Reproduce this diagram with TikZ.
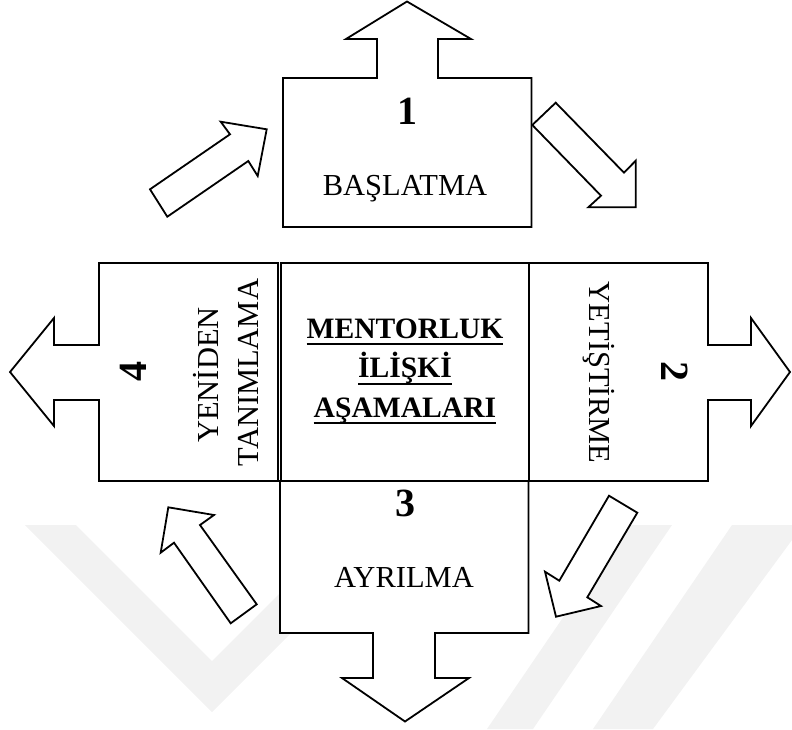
\documentclass[tikz,border=0pt]{standalone}
\usepackage{fontspec}
\setmainfont{Liberation Serif}
\newcommand\ulbox[1]{\setbox0\hbox{#1}\rlap{\rule[-7pt]{\wd0}{2pt}}\box0}
\begin{document}
\begin{tikzpicture}[x=1pt,y=-1pt,
  shp/.style={draw=black,line width=1.8pt,fill=white,line join=miter},
  wm/.style={fill=black!5,draw=none},
  lbl/.style={inner sep=0pt,anchor=base,font=\fontsize{30.5}{35}\selectfont},
  num/.style={inner sep=0pt,anchor=base,font=\fontsize{40}{46}\selectfont\bfseries},
  ctr/.style={inner sep=0pt,anchor=base,font=\fontsize{29.6}{34}\selectfont\bfseries}]
\useasboundingbox (0,0) rectangle (792,729);
% watermark
\fill[wm] (25,525) -- (76,525) -- (212,661) -- (348,525) -- (399,525) -- (212,712) -- cycle;
\fill[wm] (626,525) -- (672,525) -- (533,729) -- (487,729) -- cycle;
\fill[wm] (732,525) -- (792,525) -- (792,540) -- (653,729) -- (593,729) -- cycle;
% boxes with arrows
\draw[shp] (283,227) -- (283,78) -- (377,78) -- (377,39) -- (346,39) -- (407,1.5) -- (471,39) -- (438,39) -- (438,78) -- (531.5,78) -- (531.5,227) -- cycle;
\draw[shp] (278,263) -- (99,263) -- (99,345) -- (54,345) -- (54,318) -- (10,372) -- (54,426) -- (54,400) -- (99,400) -- (99,481) -- (278,481) -- cycle;
\draw[shp] (529,263) -- (708,263) -- (708,345) -- (751,345) -- (751,318) -- (790,372) -- (751,426) -- (751,400) -- (708,400) -- (708,481) -- (529,481) -- cycle;
\draw[shp] (280,481) -- (280,633) -- (373,633) -- (373,678) -- (342,678) -- (405,721.5) -- (469,678) -- (435,678) -- (435,633) -- (528.5,633) -- (528.5,481) -- cycle;
\draw[shp] (281,263) rectangle (529,481);
% diagonal arrows
\draw[shp] (150,189.3) -- (230,134.3) -- (220.7,121.7) -- (266.7,129.3) -- (257.7,176) -- (248.3,161) -- (167.3,216.7) -- cycle;
\draw[shp] (532.3,125) -- (555.7,102.7) -- (624,172.7) -- (635.7,160.7) -- (635.7,207.3) -- (588.3,207.3) -- (601,195.7) -- cycle;
\draw[shp] (256.7,604.3) -- (200,525) -- (214,515) -- (168.3,507.3) -- (160.7,552.7) -- (174,542.7) -- (230.7,623.3) -- cycle;
\draw[shp] (609,495.7) -- (637.3,512.7) -- (587.3,597.3) -- (601,606) -- (556,616.7) -- (545,571.7) -- (559.3,580.7) -- cycle;
% texts
\node[num] (n1) at (407,124) {1};
\node[lbl] (t1) at (405,195) {BAŞLATMA};
\node[num] (n3) at (405,516.7) {3};
\node[lbl] (t3) at (404,587.3) {AYRILMA};
\node[num,rotate=90] (n4) at (146.7,371.7) {4};
\node[lbl,rotate=90] (t4a) at (218,375) {YENİDEN};
\node[lbl,rotate=90] (t4b) at (258,372.5) {TANIMLAMA};
\node[num,rotate=-90] (n2) at (661,371.7) {2};
\node[lbl,rotate=-90] (t2) at (589,372.5) {YETİŞTİRME};
\node[ctr] (c1) at (405,338) {\ulbox{MENTORLUK}};
\node[ctr] (c2) at (405,377.5) {\ulbox{İLİŞKİ}};
\node[ctr] (c3) at (405,417) {\ulbox{AŞAMALARI}};
\end{tikzpicture}
\end{document}
